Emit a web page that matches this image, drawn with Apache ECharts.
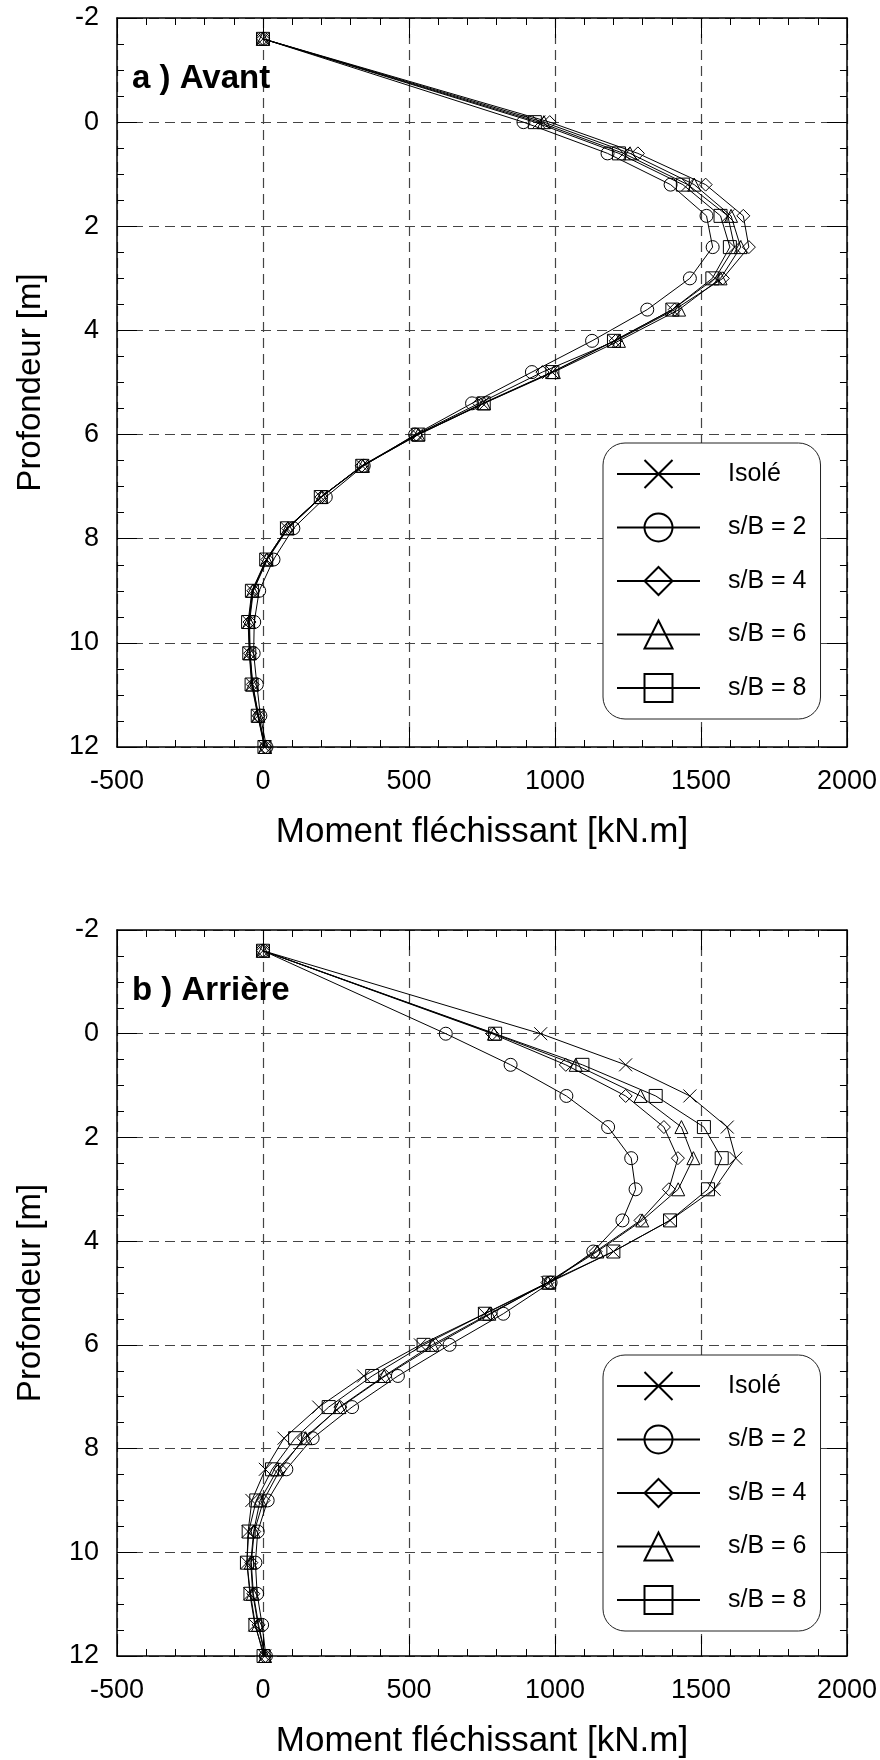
<!DOCTYPE html>
<html>
<head>
<meta charset="utf-8">
<script src="https://cdn.jsdelivr.net/npm/echarts@6/dist/echarts.min.js"></script>
<style>
  html, body { margin: 0; padding: 0; background: #fff; }
  #chart { width: 880px; height: 1760px; }
</style>
</head>
<body>
<div id="chart"></div>
<script>
// depth of the calculation points [m]
const depth = [-1.6, 0, 0.6, 1.2, 1.8, 2.4, 3.0, 3.6, 4.2, 4.8, 5.4, 6.0, 6.6, 7.2, 7.8, 8.4, 9.0, 9.6, 10.2, 10.8, 11.4, 12.0];

// a) Avant - bending moment [kN.m]
const avantIsole = [0, 945, 1235, 1455, 1592, 1615, 1548, 1402, 1203, 990, 752, 528, 340, 198, 82, 12, -36, -49, -46, -37, -17, 6];
const avantSB2 = [0, 892, 1180, 1396, 1519, 1540, 1462, 1316, 1127, 921, 716, 521, 345, 215, 104, 36, -13, -30, -32, -21, -9, 12];
const avantSB4 = [0, 982, 1284, 1516, 1645, 1664, 1575, 1410, 1208, 957, 740, 525, 338, 200, 86, 15, -33, -46, -44, -35, -15, 8];
const avantSB6 = [0, 962, 1257, 1477, 1603, 1636, 1567, 1425, 1219, 996, 757, 532, 342, 200, 85, 13, -35, -48, -45, -36, -16, 7];
const avantSB8 = [0, 931, 1219, 1438, 1567, 1599, 1539, 1402, 1202, 991, 756, 532, 340, 198, 82, 11, -38, -51, -47, -39, -18, 5];

// b) Arrière - bending moment [kN.m]
const arriereIsole = [0, 951, 1242, 1462, 1590, 1619, 1545, 1394, 1200, 974, 759, 539, 345, 191, 72, 8, -38, -51, -55, -45, -28, 6];
const arriereSB2 = [0, 626, 848, 1039, 1182, 1261, 1276, 1231, 1131, 985, 823, 639, 462, 305, 170, 80, 16, -18, -26, -20, -3, 10];
const arriereSB4 = [0, 785, 1037, 1242, 1373, 1421, 1390, 1293, 1139, 974, 780, 590, 419, 265, 140, 59, 2, -30, -40, -33, -15, 8];
const arriereSB6 = [0, 791, 1071, 1293, 1433, 1474, 1422, 1299, 1145, 976, 775, 580, 415, 262, 146, 50, -10, -32, -42, -35, -17, 7];
const arriereSB8 = [0, 795, 1094, 1345, 1510, 1571, 1524, 1394, 1200, 980, 760, 550, 374, 225, 110, 31, -23, -49, -55, -43, -26, 2];

const names = ['Isolé', 's/B = 2', 's/B = 4', 's/B = 6', 's/B = 8'];
const symbols = ['path://M0,0L10,10M10,0L0,10', 'circle', 'diamond', 'triangle', 'rect'];
const avant = [avantIsole, avantSB2, avantSB4, avantSB6, avantSB8];
const arriere = [arriereIsole, arriereSB2, arriereSB4, arriereSB6, arriereSB8];

const FONT = '"Liberation Sans", Arial, Helvetica, sans-serif';

const chart = echarts.init(document.getElementById('chart'), null, { renderer: 'canvas' });

function pairs(values) {
  return values.map((v, i) => [v, depth[i]]);
}

function makeSeries(sets, axis) {
  return sets.map((values, i) => ({
    name: names[i],
    type: 'line',
    xAxisIndex: axis,
    yAxisIndex: axis,
    data: pairs(values),
    symbol: symbols[i],
    symbolSize: 13,
    showAllSymbol: true,
    lineStyle: { color: '#000', width: 1 },
    itemStyle: { color: 'transparent', borderColor: '#000', borderWidth: 1 },
    emphasis: { disabled: true },
    animation: false,
    z: 3
  }));
}

const gridLine = { show: true, lineStyle: { color: '#444', type: [10, 6], width: 1.2 } };

function xAxes(gridIndex) {
  const common = {
    type: 'value', gridIndex, min: -500, max: 2000, interval: 500,
    axisLine: { show: true, onZero: false, lineStyle: { color: '#000', width: 1.5 } },
    axisTick: { show: true, inside: true, length: 20, lineStyle: { color: '#000' } },
    minorTick: { show: true, splitNumber: 5, length: 7, lineStyle: { color: '#000' } }
  };
  return [
    Object.assign({}, common, {
      position: 'bottom',
      axisLabel: { color: '#000', fontSize: 27, fontFamily: FONT, margin: 21, formatter: v => String(v) },
      splitLine: gridLine,
      name: 'Moment fléchissant [kN.m]',
      nameLocation: 'middle',
      nameGap: 68,
      nameTextStyle: { color: '#000', fontSize: 35, fontFamily: FONT }
    }),
    Object.assign({}, common, {
      position: 'top',
      axisLabel: { show: false },
      splitLine: { show: false }
    })
  ];
}

function yAxes(gridIndex) {
  const common = {
    type: 'value', gridIndex, min: -2, max: 12, interval: 2, inverse: true,
    axisLine: { show: true, onZero: false, lineStyle: { color: '#000', width: 1.5 } },
    axisTick: { show: true, inside: true, length: 20, lineStyle: { color: '#000' } },
    minorTick: { show: true, splitNumber: 4, length: 7, lineStyle: { color: '#000' } }
  };
  return [
    Object.assign({}, common, {
      position: 'left',
      axisLabel: { color: '#000', fontSize: 27, fontFamily: FONT, margin: 18 },
      splitLine: gridLine,
      name: 'Profondeur [m]',
      nameLocation: 'middle',
      nameGap: 70,
      nameTextStyle: { color: '#000', fontSize: 33, fontFamily: FONT }
    }),
    Object.assign({}, common, {
      position: 'right',
      axisLabel: { show: false },
      splitLine: { show: false }
    })
  ];
}

function legendAt(top) {
  return {
    data: names,
    orient: 'vertical',
    left: 603,
    top: top,
    itemWidth: 83,
    itemHeight: 35,
    itemGap: 23.5,
    padding: [16, 14, 16, 13],
    selectedMode: false,
    backgroundColor: '#fff',
    borderColor: '#222',
    borderWidth: 1,
    borderRadius: 22,
    textStyle: { color: '#000', fontSize: 25, fontFamily: FONT, padding: [0, 0, 0, 23] }
  };
}

chart.setOption({
  animation: false,
  backgroundColor: '#fff',
  title: [
    { text: 'a ) Avant', left: 132, top: 62, padding: 0,
      textStyle: { color: '#000', fontSize: 33, fontWeight: 'bold', fontFamily: FONT } },
    { text: 'b ) Arrière', left: 132, top: 974, padding: 0,
      textStyle: { color: '#000', fontSize: 33, fontWeight: 'bold', fontFamily: FONT } }
  ],
  grid: [
    { left: 117, top: 18, width: 731, height: 729 },
    { left: 117, top: 930, width: 731, height: 728 }
  ],
  xAxis: [].concat(xAxes(0), xAxes(1)),
  yAxis: [].concat(yAxes(0), yAxes(1)),
  legend: [legendAt(443), legendAt(1355)],
  series: [].concat(makeSeries(avant, 0), makeSeries(arriere, 2))
});
</script>
</body>
</html>
